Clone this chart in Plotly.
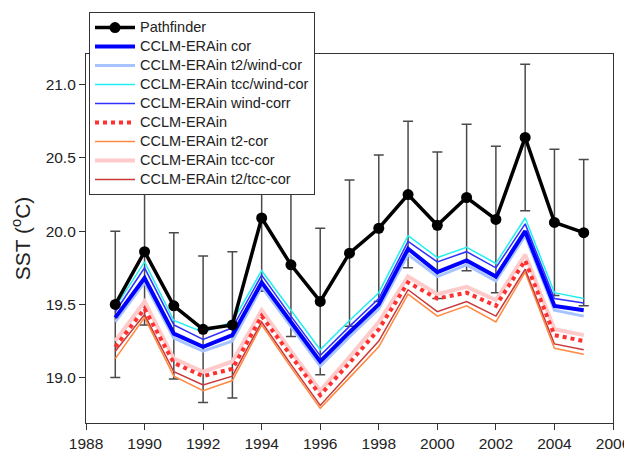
import plotly.graph_objects as go

years = list(range(1989, 2006))

pathfinder = [19.50, 19.86, 19.49, 19.33, 19.36, 20.09, 19.77, 19.52, 19.85,
              20.02, 20.25, 20.04, 20.23, 20.08, 20.64, 20.06, 19.99]
pathfinder_err = [0.50, 0.50, 0.50, 0.50, 0.50, 0.50, 0.49, 0.50, 0.50,
                  0.50, 0.50, 0.50, 0.50, 0.50, 0.50, 0.50, 0.50]

cor = [19.41, 19.68, 19.30, 19.21, 19.29, 19.65, 19.38, 19.11, 19.31,
       19.50, 19.88, 19.72, 19.80, 19.69, 20.00, 19.49, 19.46]
t2_wind_cor = [19.38, 19.65, 19.27, 19.18, 19.25, 19.62, 19.35, 19.08, 19.28,
               19.47, 19.84, 19.69, 19.77, 19.66, 19.97, 19.46, 19.42]
tcc_wind_cor = [19.48, 19.79, 19.39, 19.31, 19.38, 19.73, 19.46, 19.19, 19.39,
                19.58, 19.97, 19.82, 19.89, 19.78, 20.09, 19.58, 19.54]
wind_corr = [19.45, 19.75, 19.36, 19.26, 19.34, 19.70, 19.42, 19.15, 19.35,
             19.54, 19.93, 19.79, 19.86, 19.75, 20.05, 19.54, 19.51]
erain = [19.21, 19.47, 19.10, 19.01, 19.06, 19.42, 19.15, 18.88, 19.10,
         19.33, 19.65, 19.54, 19.58, 19.49, 19.80, 19.29, 19.25]
t2_cor = [19.13, 19.41, 19.01, 18.91, 18.98, 19.36, 19.07, 18.79, 19.00,
          19.21, 19.57, 19.42, 19.49, 19.38, 19.72, 19.20, 19.16]
tcc_cor = [19.25, 19.52, 19.13, 19.04, 19.11, 19.46, 19.18, 18.91, 19.14,
           19.38, 19.69, 19.57, 19.62, 19.53, 19.84, 19.33, 19.29]
t2_tcc_cor = [19.18, 19.43, 19.04, 18.95, 19.01, 19.38, 19.09, 18.81, 19.03,
              19.25, 19.60, 19.45, 19.52, 19.42, 19.74, 19.23, 19.19]

x_ticks = list(range(1988, 2007, 2))
y_ticks = [19.0, 19.5, 20.0, 20.5, 21.0]

FONT = "Liberation Sans, Arial, sans-serif"


def lg(name):
    return f'<span style="font-size:14.5px">{name}</span>'


fig = go.Figure()

# error bars (drawn beneath the lines)
fig.add_trace(go.Scatter(
    x=years, y=pathfinder, mode="markers", showlegend=False,
    marker=dict(size=1, color="rgba(0,0,0,0)"),
    error_y=dict(type="data", array=pathfinder_err, visible=True,
                 color="#4a4a4a", thickness=1.5, width=5),
    hoverinfo="skip"))

series = [
    ("CCLM-ERAin t2/wind-cor", t2_wind_cor, dict(color="#a8c4ff", width=3), 3),
    ("CCLM-ERAin tcc/wind-cor", tcc_wind_cor, dict(color="#22f0f0", width=1.5), 4),
    ("CCLM-ERAin wind-corr", wind_corr, dict(color="#3030ff", width=1.5), 5),
    ("CCLM-ERAin cor", cor, dict(color="#0000ff", width=4), 2),
    ("CCLM-ERAin tcc-cor", tcc_cor, dict(color="#ffcaca", width=4), 8),
    ("CCLM-ERAin t2-cor", t2_cor, dict(color="#ff8a40", width=1.5), 7),
    ("CCLM-ERAin t2/tcc-cor", t2_tcc_cor, dict(color="#c83838", width=1.5), 9),
    ("CCLM-ERAin", erain, dict(color="#ff3030", width=4, dash="dot"), 6),
]
for name, vals, line, rank in series:
    fig.add_trace(go.Scatter(x=years, y=vals, mode="lines", name=lg(name),
                             line=line, legendrank=rank))

fig.add_trace(go.Scatter(
    x=years, y=pathfinder, mode="lines+markers", name=lg("Pathfinder"),
    line=dict(color="black", width=3.5),
    marker=dict(color="black", size=11), legendrank=1))

axis_common = dict(showline=True, linecolor="#333333", linewidth=1.2,
                   mirror=True, ticks="outside", ticklen=6, tickwidth=1.2,
                   tickcolor="#333333", showgrid=False, zeroline=False,
                   automargin=False,
                   tickfont=dict(family=FONT, size=15.5, color="#222"))

fig.update_xaxes(range=[1988, 2006], tickvals=x_ticks,
                 ticktext=[str(v) for v in x_ticks], **axis_common)
fig.update_yaxes(range=[18.69, 21.21], tickvals=y_ticks,
                 ticktext=[f"{v:.1f}" for v in y_ticks],
                 title=dict(text="SST (<sup>o</sup>C)", standoff=22,
                            font=dict(family=FONT, size=21, color="#222")),
                 **axis_common)

# the page body adds an 8px offset, so the figure is 8px smaller
W, H = 624, 445
L, R, T, B = 78, 19, 46, 29.5
plot_w = W - L - R
plot_h = H - T - B
fig.update_layout(
    width=W, height=H,
    margin=dict(l=L, r=R, t=T, b=B, autoexpand=False),
    plot_bgcolor="white", paper_bgcolor="white",
    font=dict(family=FONT, color="#222"),
    legend=dict(x=3 / plot_w, y=(H - B - 4) / plot_h,
                xanchor="left", yanchor="top",
                bgcolor="white", bordercolor="#333333", borderwidth=1,
                font=dict(size=11, color="#222", family=FONT),
                traceorder="normal", itemwidth=40),
)

fig.write_html("out.html")
